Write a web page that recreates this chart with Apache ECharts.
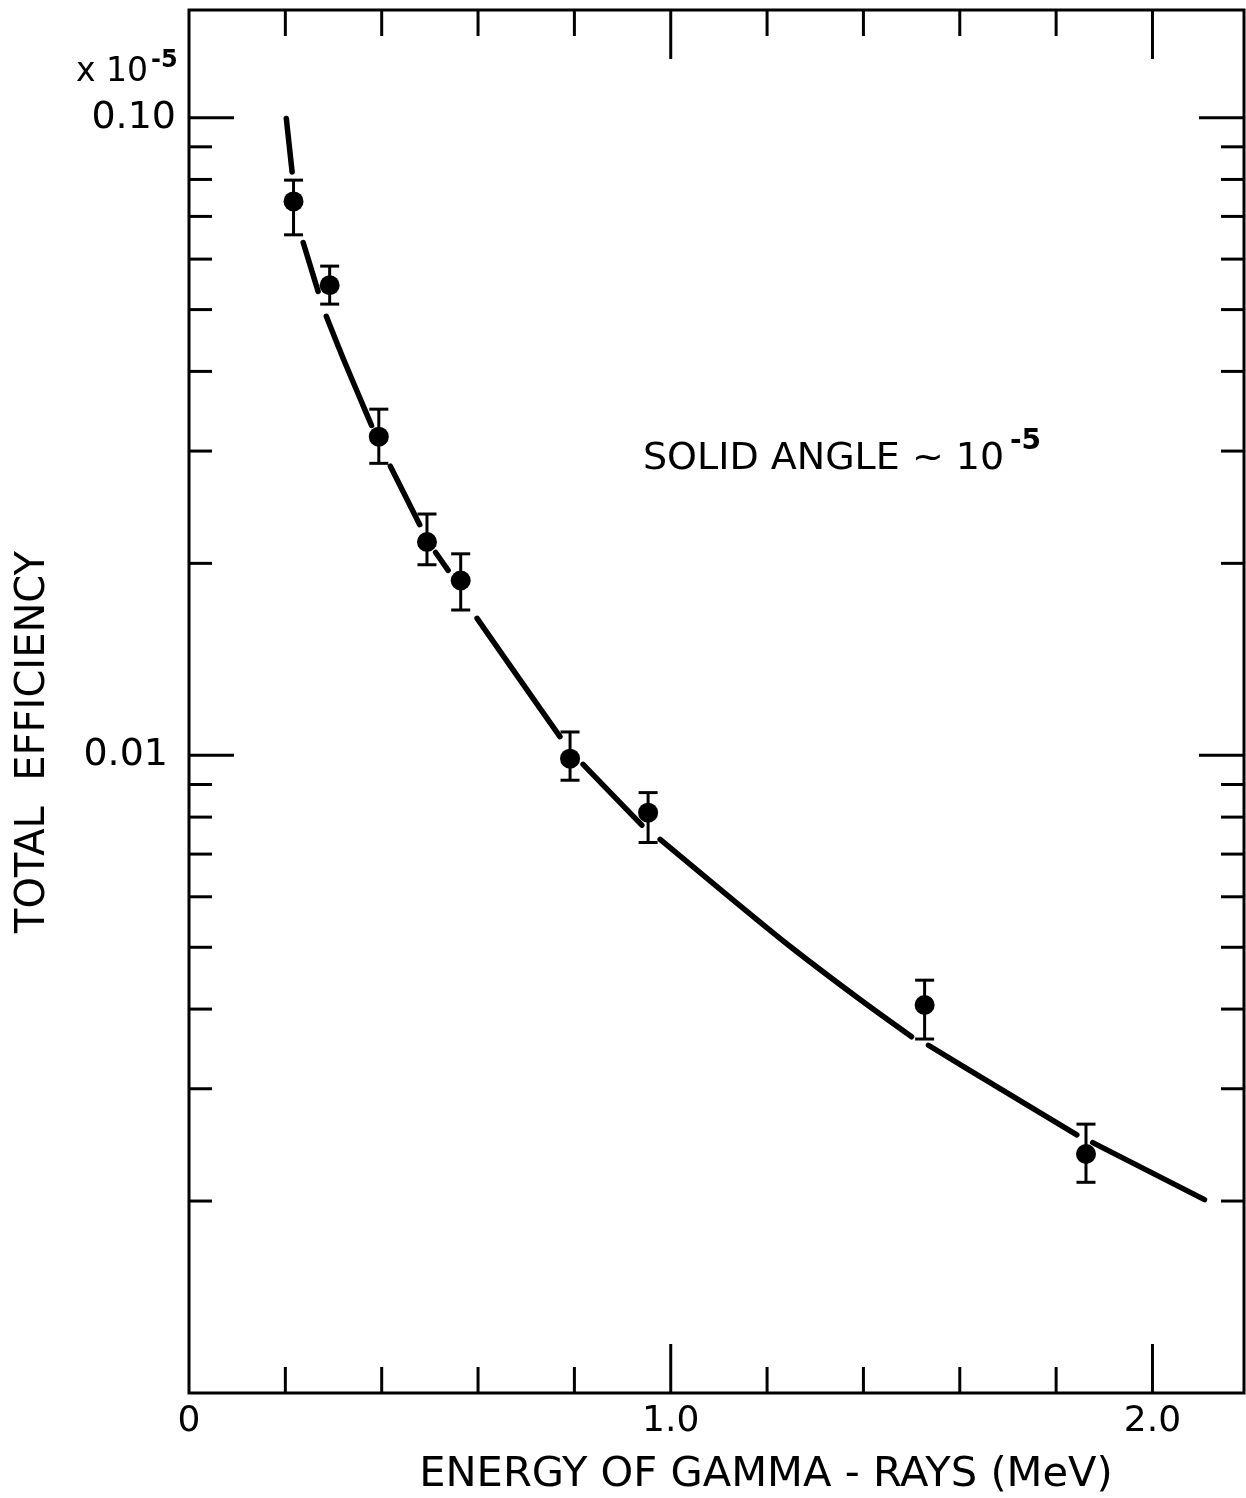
<!DOCTYPE html>
<html>
<head>
<meta charset="utf-8">
<title>Total efficiency vs gamma-ray energy</title>
<script src="https://cdn.jsdelivr.net/npm/echarts@6/dist/echarts.min.js"></script>
<style>
  html, body { margin: 0; padding: 0; background: #ffffff; }
  #chart { width: 1246px; height: 1498px; }
</style>
</head>
<body>
<div id="chart"></div>
<script>
// Measured points: gamma-ray energy (MeV) and total efficiency (x 10^-5)
const energies   = [0.217, 0.292, 0.394, 0.494, 0.564, 0.791, 0.953, 1.527, 1.862];
const efficiency = [0.0739, 0.0546, 0.0316, 0.0216, 0.0188, 0.00988, 0.00813, 0.00406, 0.00237];
const errUpper   = [0.0798, 0.0585, 0.0349, 0.0239, 0.0207, 0.01088, 0.00874, 0.00444, 0.00264];
const errLower   = [0.0655, 0.0510, 0.0287, 0.0199, 0.0169, 0.00914, 0.00730, 0.00359, 0.00214];

// Fitted curve, drawn in pieces that break around the markers
const curveSegments = [
  [[0.202, 0.0997], [0.214, 0.0822]],
  [[0.237, 0.0637], [0.268, 0.0534]],
  [[0.285, 0.0488], [0.319, 0.0421], [0.355, 0.0363], [0.379, 0.0329]],
  [[0.418, 0.0284], [0.479, 0.0230]],
  [[0.512, 0.0208], [0.538, 0.0195]],
  [[0.598, 0.0164], [0.685, 0.0132], [0.770, 0.0107]],
  [[0.818, 0.00968], [0.940, 0.00777]],
  [[0.978, 0.00738], [1.119, 0.00602], [1.250, 0.00500], [1.393, 0.00414], [1.500, 0.00362]],
  [[1.535, 0.00351], [1.656, 0.00309], [1.843, 0.00254]],
  [[1.876, 0.00247], [2.108, 0.00201]]
];

// Tick marks and tick labels
const xMinorTicks = [0.2, 0.4, 0.6, 0.8, 1.2, 1.4, 1.6, 1.8];
const xMajorTicks = [1.0, 2.0];
const yMinorTicks = [0.002, 0.003, 0.004, 0.005, 0.006, 0.007, 0.008, 0.009,
                     0.02, 0.03, 0.04, 0.05, 0.06, 0.07, 0.08, 0.09];
const yMajorTicks = [0.01, 0.1];
const xLabelValues = [0, 1, 2];
const xLabelTexts  = ['0', '1.0', '2.0'];
const yLabelValues = [0.1, 0.01];
const yLabelTexts  = ['0.10', '0.01'];

const FONT = 'DejaVu Sans';
const INK = '#000000';

const chart = echarts.init(document.getElementById('chart'), null, { renderer: 'canvas' });

function near(a, b) { return Math.abs(a - b) < 1e-6; }
function nearLog(a, b) { return Math.abs(Math.log10(a) - Math.log10(b)) < 1e-6; }

// tick rows: [x, y, orient(0 = x axis, 1 = y axis), major]
const tickData = []
  .concat(xMinorTicks.map(v => [v, 0.01, 0, 0]))
  .concat(xMajorTicks.map(v => [v, 0.01, 0, 1]))
  .concat(yMinorTicks.map(v => [1, v, 1, 0]))
  .concat(yMajorTicks.map(v => [1, v, 1, 1]));

function renderTick(params, api) {
  const cs = params.coordSys;
  const orient = api.value(2);
  const major = api.value(3);
  const p = api.coord([api.value(0), api.value(1)]);
  const style = { stroke: INK, lineWidth: 3 };
  if (orient === 0) {
    const len = major ? 49 : 26;
    const bottom = cs.y + cs.height;
    return { type: 'group', children: [
      { type: 'line', shape: { x1: p[0], y1: bottom, x2: p[0], y2: bottom - len }, style },
      { type: 'line', shape: { x1: p[0], y1: cs.y, x2: p[0], y2: cs.y + len }, style }
    ]};
  }
  const len = major ? 45 : 23;
  const right = cs.x + cs.width;
  return { type: 'group', children: [
    { type: 'line', shape: { x1: cs.x, y1: p[1], x2: cs.x + len, y2: p[1] }, style },
    { type: 'line', shape: { x1: right, y1: p[1], x2: right - len, y2: p[1] }, style }
  ]};
}

function renderErrorBar(params, api) {
  const x = api.value(0);
  const lo = api.coord([x, api.value(1)]);
  const hi = api.coord([x, api.value(2)]);
  const half = 9.5;
  const style = { stroke: INK, lineWidth: 3 };
  return { type: 'group', children: [
    { type: 'line', shape: { x1: lo[0], y1: lo[1], x2: hi[0], y2: hi[1] }, style },
    { type: 'line', shape: { x1: hi[0] - half, y1: hi[1], x2: hi[0] + half, y2: hi[1] }, style },
    { type: 'line', shape: { x1: lo[0] - half, y1: lo[1], x2: lo[0] + half, y2: lo[1] }, style }
  ]};
}

const curveSeries = curveSegments.map(seg => ({
  type: 'line',
  data: seg,
  smooth: 0.3,
  showSymbol: false,
  silent: true,
  lineStyle: { color: INK, width: 5.5, cap: 'round', join: 'round' },
  z: 3
}));

const option = {
  backgroundColor: '#ffffff',
  animation: false,
  grid: {
    left: 189, right: 2, top: 10, bottom: 105,
    show: true, borderColor: INK, borderWidth: 3, backgroundColor: 'transparent'
  },
  xAxis: {
    type: 'value',
    min: 0, max: 2.19, interval: 0.2,
    axisLine: { show: false },
    axisTick: { show: false },
    splitLine: { show: false },
    axisLabel: {
      color: INK, fontFamily: FONT, fontSize: 36, margin: 11,
      showMaxLabel: false,
      formatter: v => {
        const i = xLabelValues.findIndex(t => near(t, v));
        return i >= 0 ? xLabelTexts[i] : '';
      }
    }
  },
  yAxis: {
    type: 'log', logBase: 10,
    min: 0.001, max: 0.1475,
    axisLine: { show: false },
    axisTick: { show: false },
    splitLine: { show: false },
    minorTick: { show: false },
    axisLabel: {
      color: INK, fontFamily: FONT, fontSize: 38, margin: 13,
      formatter: v => {
        const i = yLabelValues.findIndex(t => nearLog(t, v));
        if (i < 0) return '';
        return i === 0 ? '{a|' + yLabelTexts[i] + '}' : '{b|' + yLabelTexts[i] + '}';
      },
      rich: {
        a: { fontFamily: FONT, fontSize: 38, color: INK },
        b: { fontFamily: FONT, fontSize: 38, color: INK, padding: [0, 8, 0, 0] }
      }
    }
  },
  graphic: [
    { type: 'text', left: 76, top: 56,
      style: { text: 'x 10', font: '33px "DejaVu Sans"', fill: INK } },
    { type: 'text', left: 151, top: 49,
      style: { text: '-5', font: 'bold 24px "DejaVu Sans"', fill: INK } },
    { type: 'text', left: 643, top: 440,
      style: { text: 'SOLID ANGLE ~ 10', font: '38px "DejaVu Sans"', fill: INK } },
    { type: 'text', left: 1010, top: 428,
      style: { text: '-5', font: 'bold 28px "DejaVu Sans"', fill: INK } },
    { type: 'text', x: 766, y: 1476, scaleX: 1.04,
      style: { text: 'ENERGY OF GAMMA - RAYS (MeV)', font: '40px "DejaVu Sans"', fill: INK,
               align: 'center', verticalAlign: 'middle' } },
    { type: 'text', x: 34, y: 742, rotation: Math.PI / 2,
      style: { text: 'TOTAL  EFFICIENCY', font: '40px "DejaVu Sans"', fill: INK,
               align: 'center', verticalAlign: 'middle' } }
  ],
  series: [
    {
      type: 'custom',
      name: 'ticks',
      data: tickData,
      encode: { x: 0, y: 1 },
      renderItem: renderTick,
      silent: true,
      z: 2
    },
    ...curveSeries,
    {
      type: 'custom',
      name: 'error',
      data: energies.map((e, i) => [e, errLower[i], errUpper[i]]),
      encode: { x: 0, y: [1, 2] },
      renderItem: renderErrorBar,
      silent: true,
      z: 4
    },
    {
      type: 'scatter',
      name: 'efficiency',
      data: energies.map((e, i) => [e, efficiency[i]]),
      symbol: 'circle',
      symbolSize: 20,
      itemStyle: { color: INK, opacity: 1 },
      silent: true,
      z: 5
    }
  ]
};

chart.setOption(option);
</script>
</body>
</html>
